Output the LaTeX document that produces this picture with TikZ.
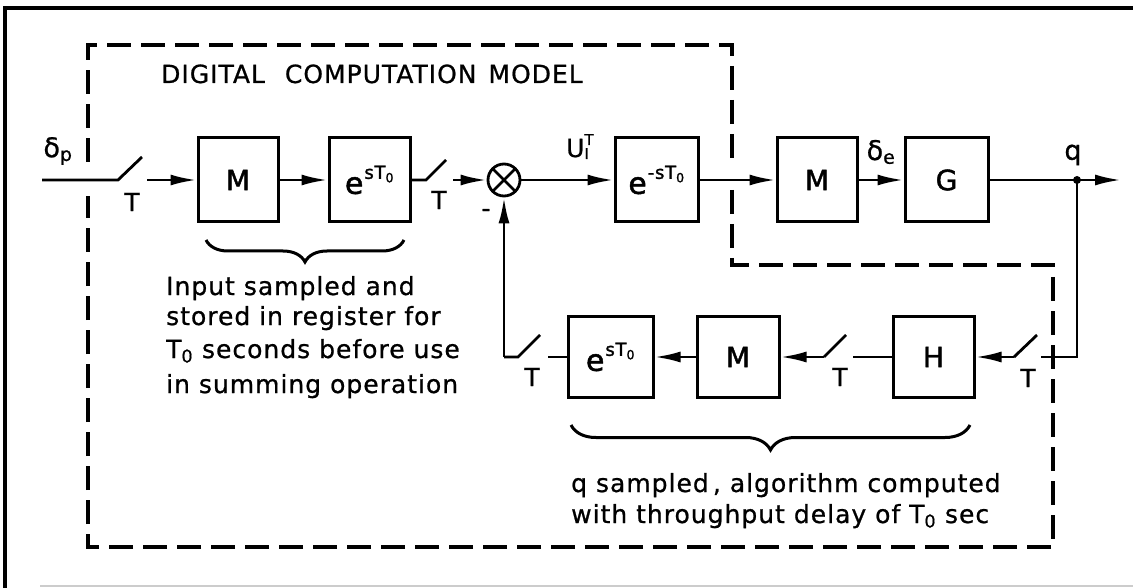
\documentclass[tikz,border=0pt]{standalone}
\usepackage{fontspec}
\setmainfont{DejaVu Sans}[LetterSpace=4,FakeBold=0.8]
\usetikzlibrary{arrows.meta,decorations.pathreplacing}
\newcommand{\Tz}{T\textsubscript{0}}
\newcommand{\esT}[1]{\fontsize{30}{30}\selectfont e\hspace{1pt}\raisebox{15pt}{\fontsize{18}{18}\selectfont #1sT\textsubscript{0}}}
\begin{document}
\begin{tikzpicture}[x=1pt,y=-1pt,
  box/.style={draw, line width=3pt, minimum width=#1, minimum height=84pt, inner sep=0pt, font=\fontsize{28}{28}\selectfont\addfontfeature{FakeBold=1.6}},
  box/.default=82pt,
  sig/.style={line width=2.8pt},
  arr/.style={line width=2.8pt, -{Latex[length=26pt,width=11pt]}},
  sum/.style={circle, draw, line width=2.8pt, minimum size=32pt, inner sep=0pt,
    path picture={\draw[line width=2.6pt] (path picture bounding box.north west) -- (path picture bounding box.south east)
      (path picture bounding box.north east) -- (path picture bounding box.south west);}},
  lab/.style={font=\fontsize{25}{25}\selectfont, inner sep=0pt},
  txt/.style={font=\fontsize{25}{25}\selectfont, inner sep=0pt, anchor=base west},
  dashbox/.style={line width=3.4pt, dash pattern=on 24pt off 10pt},
  brc/.style={line width=3pt, decorate}
]
\useasboundingbox (0,0) rectangle (1133,588);
% outer frame
\draw[line width=3.5pt] (5,588) -- (5,8) -- (1133,8);
\draw[gray!40, line width=1.5pt] (40,586) -- (1133,586);
% dashed computation box
\draw[dashbox] (88,162) -- (88,45) -- (732,45) -- (732,160);
\draw[dashbox] (732,190) -- (732,265) -- (1053,265) -- (1053,547) -- (88,547) -- (88,196);
\node[txt] (title) at (161,83) {DIGITAL\hspace{20pt}COMPUTATION\hspace{12pt}MODEL};
% forward path boxes
\node[box=80pt] (M1) at (238,180) {M};
\node[box=81pt] (E1) at (369.5,180) {\esT{}};
\node[sum] (S) at (504,180) {};
\node[box=83pt] (E2) at (656.5,180) {\esT{-}};
\node[box=80pt] (M2) at (817,180) {M};
\node[box=83pt] (G) at (946.5,180) {G};
% feedback boxes
\node[box=85pt, minimum height=81pt] (E3) at (610.5,357) {\esT{}};
\node[box=82pt, minimum height=81pt] (M3) at (738,357) {M};
\node[box=81pt, minimum height=81pt] (H) at (933.5,357) {H};
% coordinates
\coordinate (in) at (42,180);
\coordinate (s1a) at (118,180);
\coordinate (s1b) at (142,157);
\coordinate (s1c) at (147,180);
\coordinate (s2a) at (426,180);
\coordinate (s2b) at (446,160);
\coordinate (s2c) at (453,180);
\coordinate (J) at (1077,180);
\coordinate (out) at (1121,180);
\coordinate (c1) at (1077,357);
\coordinate (s4a) at (1041,357);
\coordinate (s4b) at (1037,335);
\coordinate (s4c) at (1014,357);
\coordinate (s5a) at (853,357);
\coordinate (s5b) at (846,335);
\coordinate (s5c) at (824,357);
\coordinate (s6a) at (548,357);
\coordinate (s6b) at (540,335);
\coordinate (s6c) at (518,357);
\coordinate (c2) at (504,357);
% forward path
\draw[sig] (in) -- (s1a) -- (s1b);
\draw[arr] (s1c) -- (M1);
\draw[arr] (M1) -- (E1);
\draw[sig] (E1) -- (s2a) -- (s2b);
\draw[arr] (s2c) -- (S);
\draw[arr] (S) -- (E2);
\draw[arr] (E2) -- (M2);
\draw[arr] (M2) -- (G);
\draw[sig] (G) -- (J);
\draw[arr] (J) -- (out);
\fill (J) circle (4);
% feedback path
\draw[sig] (J) -- (c1) -- (s4a);
\draw[sig] (s4b) -- (s4c);
\draw[arr] (s4c) -- (H);
\draw[sig] (H) -- (s5a);
\draw[sig] (s5b) -- (s5c);
\draw[arr] (s5c) -- (M3);
\draw[arr] (M3) -- (E3);
\draw[sig] (E3) -- (s6a);
\draw[sig] (s6b) -- (s6c) -- (c2);
\draw[arr] (c2) -- (S);
% labels
\node[lab] (T1) at (132,202) {T};
\node[lab] (T2) at (439,200) {T};
\node[lab] (T3) at (532,377) {T};
\node[lab] (T4) at (840,377) {T};
\node[lab] (T5) at (1028,378) {T};
\node[lab] (minus) at (486,213) {-};
\node[lab, font=\fontsize{27}{27}\selectfont] (dp) at (58,151) {δ\textsubscript{p}};
\node[lab, font=\fontsize{27}{27}\selectfont] (de) at (881,152) {δ\textsubscript{e}};
\node[lab, font=\fontsize{27}{27}\selectfont] (q) at (1073,155) {q};
\node[lab, anchor=base west] (U) at (566,157) {U\rlap{\raisebox{12pt}{\fontsize{15}{15}\selectfont T}}\raisebox{-2pt}{\fontsize{15}{15}\selectfont I}};
% braces
\draw[brc, decoration={brace, mirror, amplitude=22pt}] (206,240) -- (404,240);
\draw[brc, decoration={brace, mirror, amplitude=25pt}] (571,425) -- (970,425);
% annotations
\node[txt] (t1a) at (166,295) {Input sampled and};
\node[txt] (t1b) at (166,325) {stored in register for};
\node[txt] (t1c) at (166,358) {\Tz{} seconds before use};
\node[txt] (t1d) at (166,393) {in summing operation};
\node[txt] (t2a) at (571,492) {q sampled\,, algorithm computed};
\node[txt] (t2b) at (571,523) {with throughput delay of \Tz{} sec};
\end{tikzpicture}
\end{document}
